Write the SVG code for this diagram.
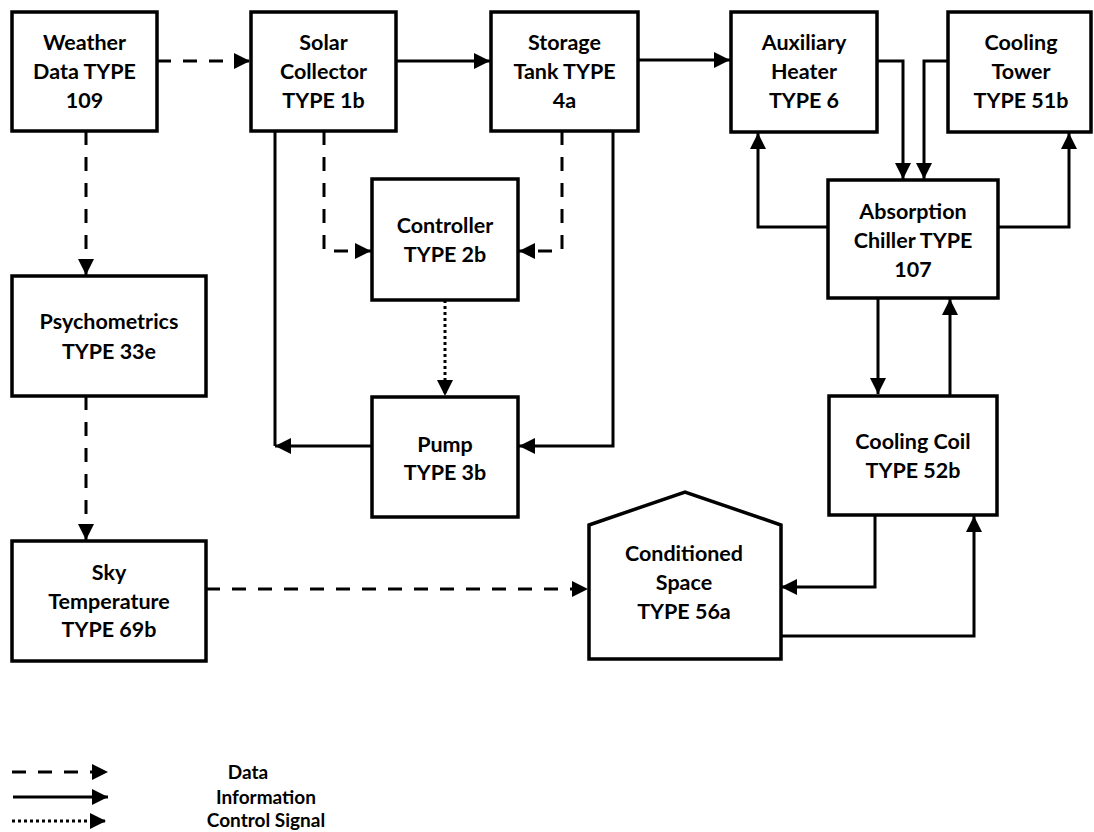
<svg xmlns="http://www.w3.org/2000/svg" width="1094" height="832" viewBox="0 0 1094 832">
<style>
.box{fill:#fff;stroke:#000;stroke-width:3.5}
.t{font-family:Lato,"Liberation Sans",sans-serif;font-weight:bold;font-size:21.5px;fill:#000;text-anchor:middle}
.c{fill:none;stroke:#000;stroke-width:3}
.d{stroke-dasharray:14 12}
.o{stroke-dasharray:3 3}
</style>
<defs>
<marker id="ah" markerUnits="userSpaceOnUse" markerWidth="16" markerHeight="16" refX="15" refY="7.5" orient="auto" viewBox="0 0 15 15">
<path d="M0,0 L15,7.5 L0,15 z" fill="#000"/>
</marker>
</defs>
<rect width="1094" height="832" fill="#fff"/>

<g id="connectors">
<path class="c d" d="M157,61 H250" marker-end="url(#ah)"/>
<path class="c" d="M396,61 H490" marker-end="url(#ah)"/>
<path class="c" d="M638,60 H730" marker-end="url(#ah)"/>
<path class="c" d="M877,61 H903 V179" marker-end="url(#ah)"/>
<path class="c" d="M948,61 H924 V179" marker-end="url(#ah)"/>
<path class="c" d="M828,227 H758 V133" marker-end="url(#ah)"/>
<path class="c" d="M998,227 H1069 V133" marker-end="url(#ah)"/>
<path class="c" d="M878,298 V394" marker-end="url(#ah)"/>
<path class="c" d="M950,396 V299" marker-end="url(#ah)"/>
<path class="c" d="M875,515 V587 H781" marker-end="url(#ah)"/>
<path class="c" d="M781,636 H974 V516" marker-end="url(#ah)"/>
<path class="c d" d="M86,131 V275" marker-end="url(#ah)"/>
<path class="c d" d="M86,396 V540" marker-end="url(#ah)"/>
<path class="c d" d="M206,589 H588" marker-end="url(#ah)"/>
<path class="c d" d="M324,131 V251 H371" marker-end="url(#ah)"/>
<path class="c d" d="M562,131 V251 H519" marker-end="url(#ah)"/>
<path class="c o" d="M445,300 V396" marker-end="url(#ah)"/>
<path class="c" d="M275,131 V446"/>
<path class="c" d="M372,446 H275" marker-end="url(#ah)"/>
<path class="c" d="M613,131 V446 H519" marker-end="url(#ah)"/>
</g>

<g id="weather"><rect class="box" x="12" y="12" width="145" height="119"/>
<text class="t" x="84.5" y="50">Weather</text><text class="t" x="84.5" y="79">Data TYPE</text><text class="t" x="84.5" y="108">109</text></g>
<g id="solar"><rect class="box" x="251" y="12" width="145" height="119"/>
<text class="t" x="323.5" y="50">Solar</text><text class="t" x="323.5" y="79">Collector</text><text class="t" x="323.5" y="108">TYPE 1b</text></g>
<g id="storage"><rect class="box" x="491" y="12" width="147" height="119"/>
<text class="t" x="564.5" y="50">Storage</text><text class="t" x="564.5" y="79">Tank TYPE</text><text class="t" x="564.5" y="108">4a</text></g>
<g id="auxheater"><rect class="box" x="731" y="12" width="146" height="120"/>
<text class="t" x="804" y="50">Auxiliary</text><text class="t" x="804" y="79">Heater</text><text class="t" x="804" y="108">TYPE 6</text></g>
<g id="tower"><rect class="box" x="948" y="12" width="143" height="120"/>
<text class="t" x="1021" y="50">Cooling</text><text class="t" x="1021" y="79">Tower</text><text class="t" x="1021" y="108">TYPE 51b</text></g>
<g id="chiller"><rect class="box" x="828" y="180" width="170" height="118"/>
<text class="t" x="913" y="219">Absorption</text><text class="t" x="913" y="248">Chiller TYPE</text><text class="t" x="913" y="277">107</text></g>
<g id="controller"><rect class="box" x="372" y="179" width="146" height="121"/>
<text class="t" x="445" y="233">Controller</text><text class="t" x="445" y="262">TYPE 2b</text></g>
<g id="pump"><rect class="box" x="372" y="397" width="146" height="120"/>
<text class="t" x="445" y="452">Pump</text><text class="t" x="445" y="480">TYPE 3b</text></g>
<g id="psych"><rect class="box" x="12" y="276" width="194" height="120"/>
<text class="t" x="109" y="329">Psychometrics</text><text class="t" x="109" y="359">TYPE 33e</text></g>
<g id="sky"><rect class="box" x="12" y="541" width="194" height="120"/>
<text class="t" x="109" y="580">Sky</text><text class="t" x="109" y="609">Temperature</text><text class="t" x="109" y="637">TYPE 69b</text></g>
<g id="coil"><rect class="box" x="829" y="396" width="168" height="119"/>
<text class="t" x="913" y="449">Cooling Coil</text><text class="t" x="913" y="478">TYPE 52b</text></g>
<g id="space"><path class="box" d="M589,525 L685,492 L781,525 V659 H589 Z"/>
<text class="t" x="684" y="561">Conditioned</text><text class="t" x="684" y="590">Space</text><text class="t" x="684" y="619">TYPE 56a</text></g>

<g id="legend">
<path class="c d" d="M12,772 H108" marker-end="url(#ah)"/>
<text class="t" x="248" y="779" style="font-size:19px">Data</text>
<path class="c" d="M13,797 H108" marker-end="url(#ah)"/>
<text class="t" x="266" y="804" style="font-size:19px">Information</text>
<path class="c o" d="M12,821 H106" marker-end="url(#ah)"/>
<text class="t" x="266" y="827" style="font-size:19px">Control Signal</text>
</g>
</svg>
